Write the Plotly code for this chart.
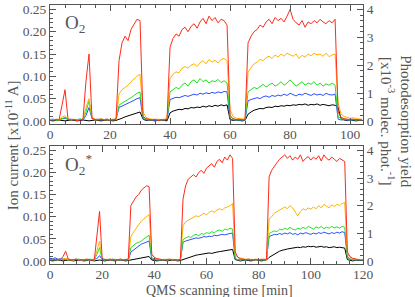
import numpy as np
import plotly.graph_objects as go

# ---------------- data: O2 panel (t = 0..104 min, 1-min steps) ----------------
t_top = list(range(105))
o2_red = [0.002,0.001,0.003,0.002,0.035,0.070,0.004,0.002,0.003,0.001,
          0.002,0.004,0.090,0.150,0.006,0.003,0.002,0.004,0.002,0.003,
          0.001,0.003,0.004,0.135,0.175,0.190,0.180,0.205,0.215,0.228,
          0.225,0.010,0.005,0.003,0.002,0.004,0.001,0.003,0.002,0.004,
          0.165,0.185,0.195,0.190,0.205,0.210,0.200,0.212,0.218,0.208,
          0.222,0.230,0.218,0.235,0.225,0.232,0.220,0.228,0.225,0.215,
          0.012,0.005,0.003,0.004,0.002,0.003,0.175,0.190,0.200,0.205,
          0.215,0.210,0.222,0.228,0.218,0.232,0.225,0.230,0.222,0.235,
          0.250,0.228,0.220,0.215,0.225,0.210,0.222,0.218,0.225,0.220,
          0.228,0.222,0.218,0.225,0.220,0.228,0.020,0.008,0.005,0.004,
          0.003,0.004,0.002,0.003,0.002]
o2_orange = [0.003,0.002,0.004,0.003,0.008,0.012,0.004,0.003,0.004,0.002,
             0.003,0.004,0.030,0.050,0.008,0.004,0.003,0.005,0.003,0.004,
             0.003,0.004,0.003,0.060,0.070,0.075,0.080,0.088,0.095,0.100,
             0.105,0.020,0.008,0.005,0.004,0.003,0.004,0.003,0.004,0.005,
             0.095,0.105,0.110,0.108,0.118,0.122,0.118,0.125,0.128,0.122,
             0.130,0.135,0.128,0.138,0.132,0.136,0.130,0.138,0.140,0.135,
             0.025,0.010,0.006,0.005,0.004,0.004,0.110,0.120,0.128,0.132,
             0.138,0.135,0.142,0.145,0.140,0.148,0.143,0.150,0.145,0.152,
             0.148,0.145,0.150,0.140,0.147,0.143,0.150,0.146,0.152,0.148,
             0.150,0.145,0.152,0.144,0.148,0.150,0.040,0.015,0.010,0.008,
             0.006,0.007,0.005,0.004,0.004]
o2_green = [0.002,0.003,0.001,0.002,0.005,0.008,0.003,0.002,0.003,0.002,
            0.004,0.003,0.020,0.045,0.006,0.003,0.002,0.004,0.002,0.003,
            0.002,0.003,0.002,0.035,0.040,0.045,0.048,0.052,0.058,0.062,
            0.065,0.008,0.004,0.003,0.002,0.003,0.002,0.003,0.002,0.004,
            0.065,0.070,0.075,0.072,0.080,0.085,0.078,0.088,0.092,0.085,
            0.095,0.088,0.092,0.085,0.090,0.088,0.093,0.086,0.090,0.085,
            0.010,0.004,0.003,0.002,0.003,0.002,0.065,0.070,0.075,0.072,
            0.078,0.082,0.076,0.080,0.085,0.078,0.082,0.088,0.080,0.085,
            0.092,0.085,0.078,0.083,0.088,0.080,0.085,0.082,0.088,0.080,
            0.085,0.078,0.083,0.080,0.085,0.080,0.010,0.005,0.004,0.003,
            0.002,0.003,0.002,0.003,0.002]
o2_blue = [0.003,0.004,0.002,0.003,0.004,0.006,0.003,0.004,0.002,0.003,
           0.004,0.002,0.012,0.030,0.005,0.003,0.004,0.002,0.003,0.004,
           0.002,0.003,0.004,0.030,0.033,0.036,0.040,0.042,0.046,0.050,
           0.052,0.004,0.002,0.003,0.002,0.001,0.002,0.003,0.002,0.003,
           0.048,0.050,0.053,0.052,0.055,0.057,0.055,0.058,0.060,0.058,
           0.062,0.060,0.063,0.061,0.064,0.062,0.065,0.063,0.066,0.065,
           0.004,0.002,0.003,0.002,0.001,0.002,0.045,0.048,0.050,0.052,
           0.050,0.054,0.056,0.053,0.057,0.055,0.058,0.056,0.060,0.057,
           0.062,0.059,0.056,0.060,0.058,0.062,0.059,0.057,0.061,0.058,
           0.060,0.057,0.062,0.059,0.058,0.060,0.004,0.002,0.003,0.002,
           0.001,0.002,0.003,0.002,0.002]
o2_black = [0.001,0.000,0.001,0.002,0.001,0.000,0.001,0.002,0.001,0.000,
            0.001,0.002,0.001,0.000,0.001,0.002,0.001,0.000,0.001,0.002,
            0.001,0.000,0.001,0.003,0.006,0.009,0.011,0.014,0.016,0.018,
            0.020,0.004,0.001,0.002,0.001,0.000,0.001,0.002,0.001,0.000,
            0.018,0.022,0.024,0.026,0.025,0.028,0.027,0.030,0.029,0.031,
            0.030,0.033,0.031,0.034,0.032,0.035,0.033,0.036,0.034,0.036,
            0.003,0.001,0.002,0.001,0.000,0.001,0.015,0.020,0.024,0.026,
            0.028,0.027,0.030,0.031,0.030,0.033,0.032,0.034,0.033,0.035,
            0.034,0.036,0.035,0.037,0.036,0.038,0.035,0.037,0.036,0.038,
            0.035,0.037,0.036,0.034,0.036,0.035,0.030,0.005,0.002,0.001,
            0.002,0.001,0.000,0.001,0.001]

# ---------------- data: O2* panel (t = 0..120 min, 1-min steps) ----------------
t_bot = list(range(121))
o2s_red = [0.003,0.002,0.004,0.003,0.002,0.010,0.022,0.004,0.002,0.003,
           0.004,0.002,0.003,0.002,0.004,0.003,0.002,0.003,0.060,0.112,
           0.005,0.003,0.002,0.004,0.003,0.002,0.003,0.004,0.002,0.003,
           0.004,0.125,0.135,0.145,0.150,0.160,0.165,0.170,0.168,0.015,
           0.008,0.005,0.004,0.003,0.002,0.003,0.004,0.002,0.003,0.002,
           0.004,0.140,0.170,0.185,0.190,0.195,0.190,0.200,0.205,0.198,
           0.210,0.215,0.220,0.212,0.225,0.230,0.222,0.235,0.228,0.240,
           0.232,0.020,0.008,0.005,0.004,0.003,0.004,0.002,0.003,0.004,
           0.002,0.003,0.004,0.003,0.190,0.205,0.215,0.222,0.230,0.235,
           0.240,0.232,0.238,0.228,0.235,0.230,0.240,0.225,0.232,0.236,
           0.228,0.235,0.230,0.238,0.226,0.240,0.232,0.228,0.235,0.230,
           0.225,0.232,0.228,0.225,0.020,0.010,0.006,0.004,0.003,0.002,
           0.002]
o2s_orange = [0.002,0.003,0.002,0.004,0.003,0.004,0.006,0.003,0.003,0.002,
              0.004,0.003,0.002,0.003,0.004,0.002,0.003,0.002,0.025,0.045,
              0.004,0.003,0.004,0.002,0.003,0.004,0.002,0.003,0.002,0.004,
              0.003,0.055,0.065,0.075,0.082,0.090,0.095,0.100,0.105,0.015,
              0.008,0.005,0.004,0.003,0.004,0.002,0.003,0.004,0.002,0.003,
              0.004,0.080,0.088,0.092,0.095,0.098,0.102,0.100,0.105,0.108,
              0.104,0.110,0.113,0.110,0.115,0.118,0.115,0.120,0.122,0.125,
              0.130,0.015,0.008,0.006,0.005,0.004,0.003,0.004,0.003,0.002,
              0.003,0.004,0.003,0.002,0.095,0.100,0.108,0.112,0.115,0.118,
              0.122,0.118,0.125,0.120,0.110,0.102,0.112,0.118,0.115,0.120,
              0.117,0.122,0.118,0.125,0.120,0.128,0.124,0.120,0.127,0.123,
              0.128,0.125,0.130,0.132,0.015,0.008,0.005,0.004,0.003,0.002,
              0.002]
o2s_green = [0.002,0.004,0.003,0.002,0.003,0.003,0.004,0.002,0.003,0.002,
             0.003,0.004,0.002,0.003,0.002,0.004,0.003,0.002,0.015,0.030,
             0.003,0.002,0.003,0.004,0.002,0.003,0.002,0.004,0.003,0.002,
             0.002,0.030,0.035,0.040,0.042,0.045,0.050,0.055,0.058,0.008,
             0.004,0.003,0.002,0.003,0.002,0.004,0.003,0.002,0.003,0.002,
             0.003,0.048,0.052,0.055,0.053,0.058,0.060,0.057,0.062,0.060,
             0.064,0.062,0.066,0.064,0.068,0.070,0.067,0.072,0.070,0.074,
             0.072,0.006,0.003,0.002,0.003,0.002,0.004,0.003,0.002,0.003,
             0.002,0.003,0.002,0.003,0.062,0.065,0.068,0.066,0.072,0.070,
             0.074,0.071,0.076,0.072,0.070,0.074,0.072,0.076,0.073,0.078,
             0.074,0.072,0.077,0.074,0.078,0.073,0.076,0.074,0.078,0.075,
             0.077,0.074,0.078,0.076,0.008,0.004,0.003,0.002,0.002,0.001,
             0.002]
o2s_blue = [0.006,0.005,0.007,0.004,0.005,0.004,0.003,0.004,0.003,0.002,
            0.004,0.002,0.003,0.002,0.003,0.002,0.003,0.004,0.005,0.012,
            0.003,0.002,0.003,0.002,0.004,0.002,0.003,0.002,0.003,0.002,
            0.002,0.020,0.025,0.030,0.034,0.038,0.040,0.043,0.045,0.004,
            0.003,0.002,0.003,0.002,0.003,0.002,0.003,0.002,0.003,0.002,
            0.003,0.042,0.045,0.047,0.048,0.050,0.052,0.051,0.053,0.055,
            0.054,0.056,0.055,0.058,0.057,0.059,0.060,0.059,0.061,0.062,
            0.063,0.004,0.002,0.003,0.002,0.003,0.002,0.003,0.002,0.003,
            0.002,0.003,0.002,0.003,0.055,0.058,0.060,0.059,0.062,0.060,
            0.063,0.061,0.064,0.060,0.062,0.059,0.063,0.061,0.064,0.062,
            0.060,0.063,0.061,0.064,0.062,0.065,0.063,0.061,0.064,0.062,
            0.065,0.063,0.066,0.064,0.010,0.004,0.003,0.002,0.002,0.001,
            0.002]
o2s_black = [0.001,0.000,0.001,0.002,0.001,0.000,0.001,0.002,0.001,0.000,
             0.001,0.002,0.001,0.000,0.001,0.002,0.001,0.000,0.001,0.002,
             0.001,0.000,0.001,0.002,0.001,0.000,0.001,0.002,0.001,0.000,
             0.001,0.002,0.004,0.005,0.006,0.007,0.008,0.009,0.010,0.002,
             0.001,0.000,0.001,0.002,0.001,0.000,0.001,0.002,0.001,0.000,
             0.001,0.003,0.006,0.008,0.010,0.011,0.013,0.014,0.015,0.016,
             0.017,0.018,0.017,0.019,0.020,0.021,0.022,0.023,0.024,0.025,
             0.026,0.003,0.001,0.000,0.001,0.002,0.001,0.000,0.001,0.002,
             0.001,0.000,0.001,0.002,0.008,0.012,0.016,0.019,0.022,0.024,
             0.026,0.027,0.028,0.029,0.030,0.031,0.030,0.032,0.031,0.033,
             0.032,0.033,0.031,0.032,0.033,0.031,0.032,0.030,0.031,0.032,
             0.030,0.031,0.030,0.029,0.003,0.001,0.000,0.001,0.001,0.000,
             0.001]

left_ticks = [0.00, 0.05, 0.10, 0.15, 0.20, 0.25]
right_ticks = [0, 1, 2, 3, 4]
RIGHT_SCALE = 16.0   # 4 (right axis) <-> 0.25 (left axis)

COLORS = {"black": "#000000", "blue": "#2a50ff", "green": "#22e022",
          "orange": "#ffb300", "red": "#ff2a1a"}

fig = go.Figure()

def add_panel(t, series, xa, ya):
    for name, y in series:
        fig.add_trace(go.Scatter(x=t[:len(y)], y=y, mode="lines",
                                 line=dict(color=COLORS[name], width=1),
                                 xaxis=xa, yaxis=ya, showlegend=False,
                                 hoverinfo="skip"))

add_panel(t_top, [("black", o2_black), ("blue", o2_blue), ("green", o2_green),
                  ("orange", o2_orange), ("red", o2_red)], "x", "y")
add_panel(t_bot, [("black", o2s_black), ("blue", o2s_blue), ("green", o2s_green),
                  ("orange", o2s_orange), ("red", o2s_red)], "x2", "y2")
# placeholder traces so that the right-hand axes are drawn
fig.add_trace(go.Scatter(x=[None], y=[None], xaxis="x", yaxis="y3", showlegend=False))
fig.add_trace(go.Scatter(x=[None], y=[None], xaxis="x2", yaxis="y4", showlegend=False))

GREY = "#555555"
FONT = "Liberation Serif"
tickfont = dict(family=FONT, size=13.5, color=GREY)

yr = [-0.007, 0.26]
yr_right = [yr[0] * RIGHT_SCALE, yr[1] * RIGHT_SCALE]

common_x = dict(ticks="inside", ticklen=6, tickcolor=GREY, showline=True,
                linecolor=GREY, linewidth=1, mirror="ticks", showgrid=False,
                zeroline=False, tickfont=tickfont, dtick=20, tick0=0,
                automargin=False, ticklabelstandoff=-2,
                minor=dict(ticks="inside", ticklen=3, dtick=5, tickcolor=GREY))
common_yl = dict(ticks="inside", ticklen=6, tickcolor=GREY, showline=True,
                 linecolor=GREY, linewidth=1, showgrid=False, zeroline=False,
                 tickfont=tickfont, range=yr, tickvals=left_ticks,
                 tickformat=".2f", automargin=False,
                 minor=dict(ticks="inside", ticklen=3, dtick=0.01, tickcolor=GREY))
common_yr = dict(ticks="inside", ticklen=6, tickcolor=GREY, showline=True,
                 linecolor=GREY, linewidth=1, showgrid=False, zeroline=False,
                 tickfont=tickfont, range=yr_right, tickvals=right_ticks,
                 side="right", automargin=False,
                 minor=dict(ticks="inside", ticklen=3, dtick=0.2, tickcolor=GREY))

top_dom = [0.5405, 1.0]
bot_dom = [0.0, 0.4556]

fig.update_layout(
    width=415, height=297,
    margin=dict(l=50, r=52, t=5, b=33, autoexpand=False),
    showlegend=False,
    paper_bgcolor="white", plot_bgcolor="white",
    xaxis=dict(common_x, domain=[0, 1], anchor="y", range=[0, 104.3]),
    yaxis=dict(common_yl, domain=top_dom, anchor="x"),
    yaxis3=dict(common_yr, domain=top_dom, anchor="x", overlaying="y"),
    xaxis2=dict(common_x, domain=[0, 1], anchor="y2", range=[0, 120]),
    yaxis2=dict(common_yl, domain=bot_dom, anchor="x2"),
    yaxis4=dict(common_yr, domain=bot_dom, anchor="x2", overlaying="y2"),
)

ann_font = dict(family=FONT, size=15, color=GREY)
fig.add_annotation(text="Ion current [x10<sup>-11</sup> A]", textangle=-90,
                   xref="paper", yref="paper", x=-0.121, y=0.459,
                   xanchor="center", yanchor="middle", showarrow=False, font=ann_font)
fig.add_annotation(text="Photodesorption yield<br>[x10<sup>-3</sup> molec. phot.<sup>-1</sup>]",
                   textangle=90, xref="paper", yref="paper", x=1.105, y=0.548,
                   xanchor="center", yanchor="middle", showarrow=False, font=ann_font)
fig.add_annotation(text="QMS scanning time [min]", xref="paper", yref="paper",
                   x=0.543, y=-0.104, xanchor="center", yanchor="middle",
                   showarrow=False, font=dict(family=FONT, size=14, color=GREY))
fig.add_annotation(text="O<sub>2</sub>", xref="paper", yref="paper",
                   x=0.0415, y=0.927, xanchor="left", yanchor="middle",
                   showarrow=False, font=dict(family=FONT, size=19, color=GREY))
fig.add_annotation(text="O<sub>2</sub><sup>*</sup>", xref="paper", yref="paper",
                   x=0.0415, y=0.386, xanchor="left", yanchor="middle",
                   showarrow=False, font=dict(family=FONT, size=19, color=GREY))

fig.write_html("out.html",
               config={"displayModeBar": False, "staticPlot": True},
               post_script="document.body.style.margin='0';"
                           "document.body.style.overflow='hidden';")
